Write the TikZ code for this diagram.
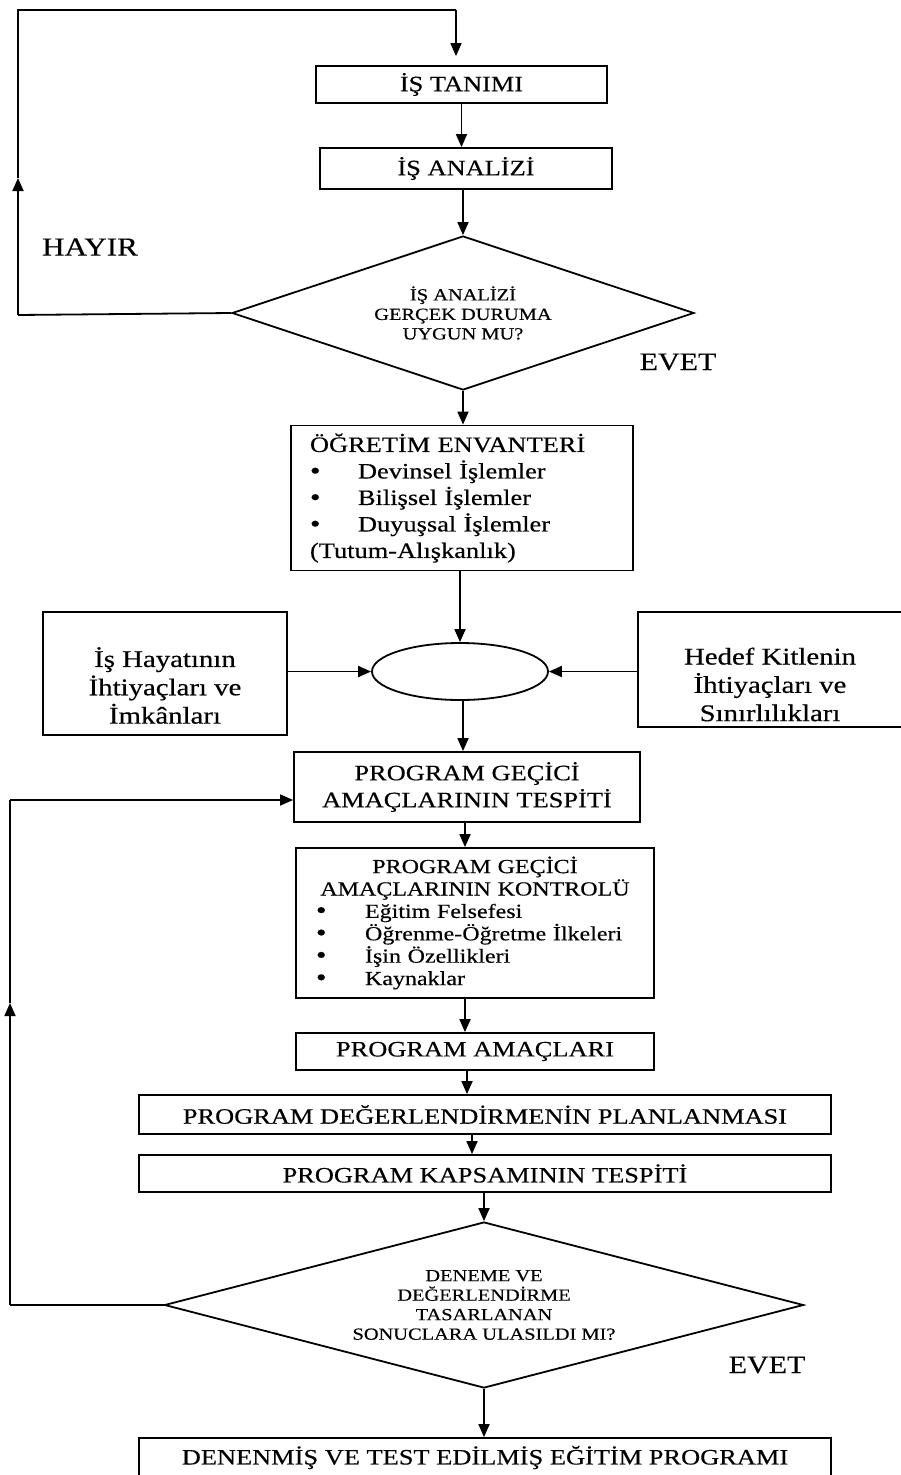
\documentclass[tikz,border=0pt]{standalone}
\usepackage{fontspec}
\setmainfont{Liberation Serif}[FakeStretch=1.2,FakeBold=0.4]
\usetikzlibrary{arrows.meta,shapes.geometric}
% list bullet used inside the boxes
\newcommand\listdot{\raisebox{-0.5pt}{\fontsize{25}{25}\selectfont\textbullet}}
\begin{document}
\begin{tikzpicture}[x=1pt,y=-1pt,
  line width=1.8pt,
  arr/.style={-{Triangle[length=13pt,width=11pt]}},
  box/.style={draw,rectangle,inner sep=0pt,align=center,font=\fontsize{22}{27}\selectfont},
  listbox/.style={draw,rectangle,inner ysep=0pt,align=left},
  sidebox/.style={draw,rectangle,inner sep=0pt},
  sidetext/.style={align=center,inner sep=0pt,font=\fontsize{24}{28.3}\selectfont},
  dec/.style={draw,diamond,inner sep=0pt,align=center,font=\fontsize{17}{19.5}\selectfont},
  lbl/.style={inner sep=0pt,font=\fontsize{25}{30}\selectfont}]
\useasboundingbox (0,0) rectangle (901,1475);
\clip (0,0) rectangle (901,1475);

% main flow boxes
\node[box,minimum width=291pt,minimum height=37pt] (tanim) at (461.5,84.5) {İŞ TANIMI};
\node[box,minimum width=292pt,minimum height=41pt] (analiz) at (466,168.5) {İŞ ANALİZİ};
\node[dec,aspect=3,minimum width=462pt,minimum height=154pt] (d1) at (463,313)
  {İŞ ANALİZİ\\GERÇEK DURUMA\\UYGUN MU?};

\node[listbox,text width=304pt,inner xsep=19pt,minimum height=145pt,
      font=\fontsize{22}{26.5}\selectfont] (ogr) at (462,498)
  {ÖĞRETİM ENVANTERİ\\
   \makebox[48pt][l]{\listdot}Devinsel İşlemler\\
   \makebox[48pt][l]{\listdot}Bilişsel İşlemler\\
   \makebox[48pt][l]{\listdot}Duyuşsal İşlemler\\
   (Tutum-Alışkanlık)};

\node[draw,ellipse,minimum width=176pt,minimum height=57pt,inner sep=0pt] (ell) at (460,671.5) {};
\node[sidebox,minimum width=244pt,minimum height=123pt,
      label={[sidetext,yshift=-12pt]center:İş Hayatının\\İhtiyaçları ve\\İmkânları}] (hayat) at (165,673.5) {};
\node[sidebox,minimum width=270pt,minimum height=115pt,
      label={[sidetext,yshift=-15pt,xshift=-3pt]center:Hedef Kitlenin\\İhtiyaçları ve\\Sınırlılıkları}] (hedef) at (773,669.5) {};

\node[box,minimum width=346pt,minimum height=70pt] (pgat) at (467,787)
  {PROGRAM GEÇİCİ\\AMAÇLARININ TESPİTİ};

\node[listbox,text width=318pt,inner xsep=20pt,minimum height=150pt,
      font=\fontsize{20}{22.4}\selectfont] (pgak) at (475,923)
  {\centering PROGRAM GEÇİCİ\\AMAÇLARININ KONTROLÜ\par
   \raggedright
   \makebox[49pt][l]{\listdot}Eğitim Felsefesi\\
   \makebox[49pt][l]{\listdot}Öğrenme-Öğretme İlkeleri\\
   \makebox[49pt][l]{\listdot}İşin Özellikleri\\
   \makebox[49pt][l]{\listdot}Kaynaklar};

\node[box,minimum width=358pt,minimum height=37pt] (amac) at (475,1051.5) {PROGRAM AMAÇLARI};
\node[box,minimum width=692pt,minimum height=39pt] (degerl) at (485,1114.5) {PROGRAM DEĞERLENDİRMENİN PLANLANMASI};
\node[box,minimum width=692pt,minimum height=37pt] (kapsam) at (485,1173.5) {PROGRAM KAPSAMININ TESPİTİ};
\node[dec,aspect=3.85,minimum width=639pt,minimum height=166pt] (d2) at (484,1305)
  {DENEME VE\\DEĞERLENDİRME\\TASARLANAN\\SONUCLARA ULASILDI MI?};
\node[box,minimum width=692pt,minimum height=39pt] (son) at (485,1457.5) {DENENMİŞ VE TEST EDİLMİŞ EĞİTİM PROGRAMI};

% branch labels
\node[lbl,font=\fontsize{26}{30}\selectfont] (hayir) at (90,247) {HAYIR};
\node[lbl] (evet1) at (678,362) {EVET};
\node[lbl] (evet2) at (767,1365) {EVET};

% main downward connectors
\draw[arr] (tanim.south) -- (tanim.south |- analiz.north);
\draw[arr] (d1.north |- analiz.south) -- (d1.north);
\draw[arr] (d1.south) -- (d1.south |- ogr.north);
\draw[arr] (ell.north |- ogr.south) -- (ell.north);
\draw[arr] (hayat.east |- ell.west) -- (ell.west);
\draw[arr] (hedef.west |- ell.east) -- (ell.east);
\draw[arr] ([xshift=3pt]ell.south) -- ([xshift=3pt]ell.south |- pgat.north);
\draw[arr] ([xshift=-2pt]pgat.south) -- ([xshift=-2pt]pgat.south |- pgak.north);
\draw[arr] ([xshift=-10pt]pgak.south) -- ([xshift=-10pt]pgak.south |- amac.north);
\draw[arr] ([xshift=-8pt]amac.south) -- ([xshift=-8pt]amac.south |- degerl.north);
\draw[arr] ([xshift=-13pt]degerl.south) -- ([xshift=-13pt]degerl.south |- kapsam.north);
\draw[arr] (d2.north |- kapsam.south) -- (d2.north);
\draw[arr] (d2.south) -- (d2.south |- son.north);

% upper return loop (HAYIR)
\coordinate (r1a) at (18,315);
\coordinate (r1b) at (18,178);
\coordinate (r1c) at (18,10);
\coordinate (r1d) at (456,10);
\draw (d1.west) -- (r1a);
\draw[arr] (r1a) -- (r1b);
\draw (r1b) -- (r1c) -- (r1d);
\draw[arr,shorten >=9pt] (r1d) -- (r1d |- tanim.north);

% lower return loop
\coordinate (r2a) at (10,1305);
\coordinate (r2b) at (10,1003);
\coordinate (r2c) at (10,800);
\draw (d2.west) -- (r2a);
\draw[arr] (r2a) -- (r2b);
\draw (r2b) -- (r2c);
\draw[arr] (r2c) -- (r2c -| pgat.west);
\end{tikzpicture}
\end{document}
